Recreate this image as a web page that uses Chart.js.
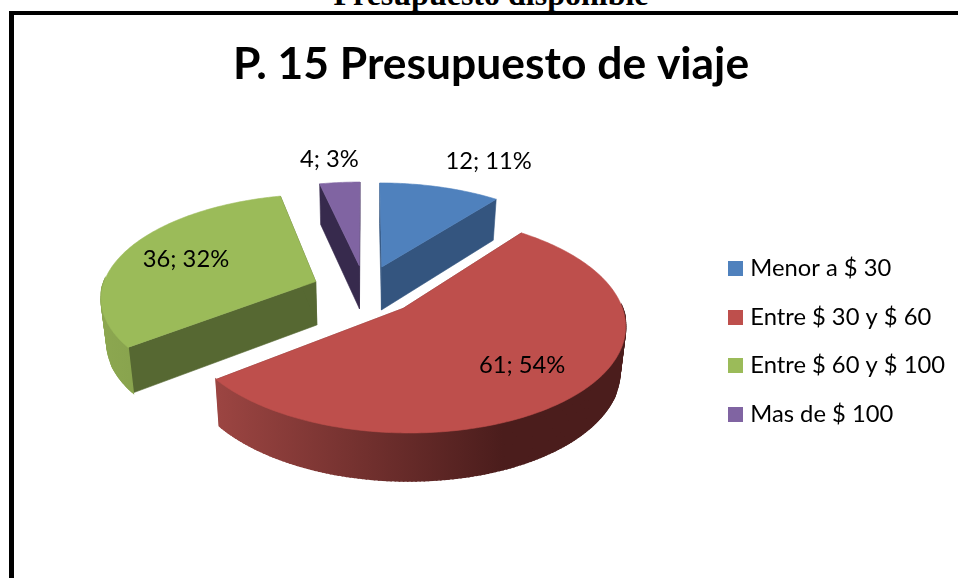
<!DOCTYPE html>
<html>
<head>
<meta charset="utf-8">
<title>P. 15 Presupuesto de viaje</title>
<script src="https://cdn.jsdelivr.net/npm/chart.js@4"></script>
<style>
html,body{margin:0;padding:0;background:#fff;width:958px;height:578px;overflow:hidden;position:relative}
#head{position:absolute;left:0;width:982px;top:-24px;text-align:center;font:bold 32px "Liberation Serif",serif;color:#000;white-space:nowrap}
#frame{position:absolute;left:9px;top:11px;width:1200px;height:800px;border-left:5px solid #000;border-top:4px solid #000;box-sizing:border-box}
canvas{position:absolute;left:0;top:0}
</style>
</head>
<body>
<div id="head">Presupuesto disponible</div>
<div id="frame"></div>
<canvas id="c" width="958" height="578"></canvas>
<script>
const categories = ["Menor a $ 30", "Entre $ 30 y $ 60", "Entre $ 60 y $ 100", "Mas de $ 100"];
const counts = [12, 61, 36, 4];
const percents = [11, 54, 32, 3];
const chartTitle = "P. 15 Presupuesto de viaje";

const topColors = ["#4F81BD", "#BE4F4C", "#9BBB59", "#8064A2"];
const cutColors = ["#34557F", "#7D2F2D", "#566832", "#372A4D"];
const wallLeft  = ["#34557F", "#9C4542", "#8CA750", "#372A4D"];
const wallRight = ["#34557F", "#4B1D1C", "#7F9A47", "#372A4D"];
const labelRadius = [1.445, 0.70, 0.68, 1.33];
const labelTurnDeg = [6.3, 0, -0.2, -1.2];

const VIEW = {cx: 365, cy: 290, persp: 0.00065, tilt: 0.475, baseShrink: 0.978, baseDepth: 41, depthGrow: 0.03};

function project(u, v) {
  const s = 1 / (1 - VIEW.persp * v);
  return {x: VIEW.cx + u * s, y: VIEW.cy + VIEW.tilt * v * s};
}
function lower(p) {
  return {
    x: VIEW.cx + (p.x - VIEW.cx) * VIEW.baseShrink,
    y: p.y + VIEW.baseDepth + (p.y - 200) * VIEW.depthGrow
  };
}
function fillPoly(ctx, pts, fill, edge) {
  ctx.beginPath();
  pts.forEach((p, i) => i ? ctx.lineTo(p.x, p.y) : ctx.moveTo(p.x, p.y));
  ctx.closePath();
  ctx.fillStyle = fill;
  ctx.strokeStyle = fill;
  ctx.lineWidth = edge || 0.6;
  ctx.fill();
  ctx.stroke();
}

// Draw each arc of the pie as a tilted 3D wedge, using the geometry Chart.js computed.
Chart.ArcElement.prototype.draw = function (ctx) {
  const {startAngle, endAngle, outerRadius} = this.getProps(['startAngle', 'endAngle', 'outerRadius']);
  const off = this.options.offset || 0;
  const mid = (startAngle + endAngle) / 2;
  const ax = Math.cos(mid) * off, ay = Math.sin(mid) * off;
  const apex = project(ax, ay);
  const rim = [], angles = [];
  const steps = Math.max(4, Math.ceil((endAngle - startAngle) * 60));
  for (let i = 0; i <= steps; i++) {
    const a = startAngle + (endAngle - startAngle) * i / steps;
    angles.push(a);
    rim.push(project(ax + outerRadius * Math.cos(a), ay + outerRadius * Math.sin(a)));
  }
  const i = topColors.indexOf(this.options.backgroundColor);
  ctx.save();
  const rimLow = rim.map(lower), apexLow = lower(apex);
  fillPoly(ctx, [apex, rim[0], rimLow[0], apexLow], cutColors[i]);
  fillPoly(ctx, [apex, rim[steps], rimLow[steps], apexLow], cutColors[i]);
  const xs = rim.map(p => p.x);
  const grad = ctx.createLinearGradient(Math.min(...xs), 0, Math.max(...xs), 0);
  grad.addColorStop(0, wallLeft[i]);
  grad.addColorStop(0.7, wallRight[i]);
  grad.addColorStop(1, wallRight[i]);
  for (let k = 0; k < steps; k++) {
    if (Math.sin(angles[k]) < -0.02 && Math.sin(angles[k + 1]) < -0.02) continue;
    fillPoly(ctx, [rim[k], rim[k + 1], rimLow[k + 1], rimLow[k]], grad, 1.6);
  }
  fillPoly(ctx, [apex].concat(rim), topColors[i]);
  ctx.restore();
};

const wedgeLabels = {
  id: 'wedgeLabels',
  afterDatasetsDraw(chart) {
    const ctx = chart.ctx;
    const arcs = chart.getDatasetMeta(0).data;
    ctx.save();
    ctx.font = '23.75px Lato';
    ctx.fillStyle = '#000';
    ctx.textAlign = 'center';
    ctx.textBaseline = 'middle';
    arcs.forEach((arc, i) => {
      const p = arc.getProps(['startAngle', 'endAngle', 'outerRadius']);
      const mid = (p.startAngle + p.endAngle) / 2;
      const off = arc.options.offset || 0;
      const turn = mid + labelTurnDeg[i] * Math.PI / 180;
      const r = p.outerRadius * labelRadius[i];
      const q = project(Math.cos(mid) * off + r * Math.cos(turn), Math.sin(mid) * off + r * Math.sin(turn));
      ctx.fillText(counts[i] + '; ' + percents[i] + '%', q.x, q.y);
    });
    ctx.restore();
  }
};

function swatch(color) {
  const c = document.createElement('canvas');
  c.width = 15; c.height = 15;
  const g = c.getContext('2d');
  g.fillStyle = color;
  g.fillRect(0, 0, 15, 15);
  return c;
}

new Chart(document.getElementById('c'), {
  type: 'pie',
  data: {
    labels: categories,
    datasets: [{data: counts, backgroundColor: topColors, borderWidth: 0, offset: 53}]
  },
  options: {
    responsive: false,
    animation: false,
    radius: 214,
    layout: {padding: {left: 27, right: 3, top: 18, bottom: 0}},
    plugins: {
      tooltip: {enabled: false},
      title: {
        display: true,
        text: chartTitle,
        color: '#000',
        font: {family: 'Lato', size: 44.4, weight: 'bold'},
        padding: {top: 20, bottom: 13.6}
      },
      legend: {
        display: true,
        position: 'right',
        fullSize: false,
        labels: {
          usePointStyle: true,
          pointStyleWidth: 6,
          color: '#000',
          font: {family: 'Lato', size: 23.75},
          padding: 25,
          generateLabels(chart) {
            return categories.map((name, i) => ({
              text: name,
              index: i,
              pointStyle: swatch(topColors[i]),
              fillStyle: topColors[i],
              strokeStyle: topColors[i],
              lineWidth: 0,
              hidden: false
            }));
          }
        }
      }
    }
  },
  plugins: [wedgeLabels]
});
</script>
</body>
</html>
